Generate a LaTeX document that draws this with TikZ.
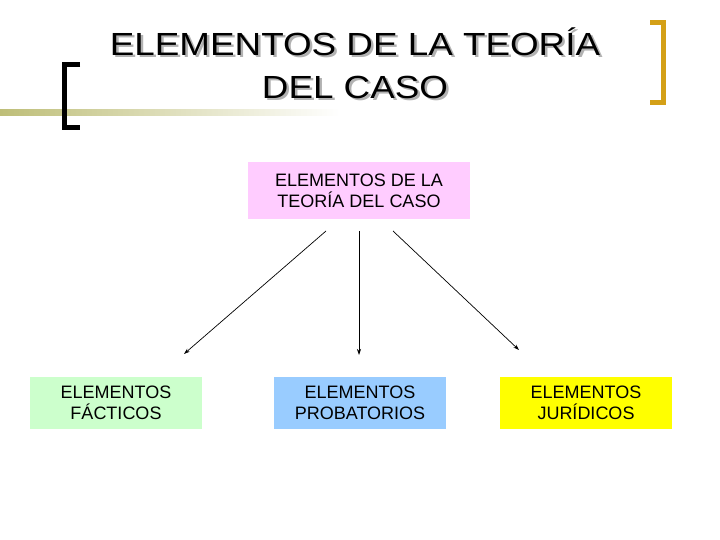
\documentclass[tikz,border=0pt]{standalone}
\usepackage{fontspec}
\usetikzlibrary{arrows.meta}
\setmainfont{Liberation Sans}
\begin{document}
\begin{tikzpicture}[x=1pt,y=-1pt,
  box/.style={inner sep=0pt,minimum height=57pt,align=center,font=\fontsize{18}{21}\selectfont},
  ttl/.style={align=center,font=\fontsize{32}{43}\selectfont,xscale=1.15},
  arr/.style={-{Stealth[length=6pt,width=4pt]},line width=0.7pt}]
\useasboundingbox (0,0) rectangle (720,540);
\fill[white] (0,0) rectangle (720,540);
\shade[left color={rgb,255:red,190;green,190;blue,120},right color=white,shading angle=90] (0,110) rectangle (340,116);
\draw[line width=5pt] (80,64.5) -- (64.5,64.5) -- (64.5,127.5) -- (80,127.5);
\draw[line width=5pt,color={rgb,255:red,212;green,160;blue,23}] (650,22.5) -- (663.5,22.5) -- (663.5,102.5) -- (650,102.5);
\node[ttl,gray!60] (shadow) at (357.5,65.5) {ELEMENTOS DE LA TEORÍA\\DEL CASO};
\node[ttl] (title) at (355,63) {ELEMENTOS DE LA TEORÍA\\DEL CASO};
\node[box,fill={rgb,255:red,255;green,204;blue,255},minimum width=222pt] (top) at (359,190.5) {ELEMENTOS DE LA\\TEORÍA DEL CASO};
\node[box,fill={rgb,255:red,204;green,255;blue,204},minimum width=172pt,minimum height=52pt] (fac) at (116,403) {ELEMENTOS\\FÁCTICOS};
\node[box,fill={rgb,255:red,153;green,204;blue,255},minimum width=172pt,minimum height=52pt] (pro) at (360,403) {ELEMENTOS\\PROBATORIOS};
\node[box,fill={rgb,255:red,255;green,255;blue,0},minimum width=172pt,minimum height=52pt] (jur) at (586,403) {ELEMENTOS\\JURÍDICOS};
\coordinate (a1) at (326,231); \coordinate (b1) at (184,354);
\coordinate (a2) at (359,231); \coordinate (b2) at (359,355);
\coordinate (a3) at (393,231); \coordinate (b3) at (519,350);
\draw[arr] (a1) -- (b1);
\draw[arr] (a2) -- (b2);
\draw[arr] (a3) -- (b3);
\end{tikzpicture}
\end{document}
